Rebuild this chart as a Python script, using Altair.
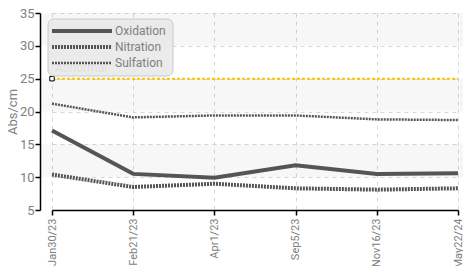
import altair as alt
import pandas as pd

dates = ["Jan30/23", "Feb21/23", "Apr1/23", "Sep5/23", "Nov16/23", "May22/24"]
oxidation = [17.1, 10.5, 9.9, 11.8, 10.5, 10.6]
nitration = [10.4, 8.5, 9.0, 8.3, 8.1, 8.3]
sulfation = [21.2, 19.1, 19.4, 19.4, 18.8, 18.7]
abnormal = [25, 25, 25, 25, 25, 25]
series = ["Oxidation", "Nitration", "Sulfation"]
band_lo = [10, 20, 30]
band_hi = [15, 25, 35]
y_ticks = [5, 10, 15, 20, 25, 30, 35]

FONT = "Roboto, Liberation Sans, sans-serif"
LINE = "#555555"
TXT = "#808080"
W = 423
H = 197

def df(vals, ds=dates):
    return pd.DataFrame({"date": ds, "value": vals})

x_axis = alt.Axis(labelAngle=-90, labelFontSize=11, labelPadding=3,
                  labelOverlap=False, grid=True, ticks=True)
x = alt.X("date:N", sort=dates, title=None,
          scale=alt.Scale(type="point", range=[12, 418], padding=0),
          axis=x_axis)
y_axis = alt.Axis(values=y_ticks, labelFontSize=13, labelPadding=1,
                  labelOverlap=False, grid=True,
                  titleFontSize=13, titleFontWeight="normal",
                  titleX=-28, titleY=H / 2, titleAngle=-90,
                  titleAlign="center", titleBaseline="middle")
y_scale = alt.Scale(domain=[5, 35], nice=False, zero=False)
y = alt.Y("value:Q", title="Abs/cm", scale=y_scale, axis=y_axis)

bands = alt.Chart(pd.DataFrame({"lo": band_lo, "hi": band_hi})).mark_rect(
    fill="#000000", fillOpacity=0.03
).encode(x=alt.value(0), x2=alt.value(W),
         y=alt.Y("lo:Q", title="Abs/cm", scale=y_scale, axis=y_axis), y2="hi:Q")

ox = alt.Chart(df(oxidation)).mark_line(color=LINE, strokeWidth=4).encode(x=x, y=y)
ni = alt.Chart(df(nitration)).mark_line(color=LINE, strokeWidth=4, strokeDash=[2, 1]).encode(x=x, y=y)
su = alt.Chart(df(sulfation)).mark_line(color=LINE, strokeWidth=2.5, strokeDash=[2, 1]).encode(x=x, y=y)
ab = alt.Chart(df(abnormal)).mark_line(color="#f7c600", strokeWidth=2, strokeDash=[3, 2]).encode(x=x, y=y)
ab_pt = alt.Chart(df(abnormal[:1], dates[:1])).mark_point(
    shape="square", size=20, filled=True, fill="white", stroke="black", strokeWidth=1, opacity=1
).encode(x=x, y=y)
ab_txt = alt.Chart(pd.DataFrame({"t": ["Abnormal"]})).mark_text(
    align="left", baseline="middle", fontSize=12, color="#b0b0b0", font=FONT
).encode(x=alt.value(15), y=alt.value(55), text="t:N")

leg_box = alt.Chart(pd.DataFrame({"a": [0]})).mark_rect(
    fill="#e8e8e8", fillOpacity=0.85, stroke="#c8c8c8", strokeWidth=1, cornerRadius=6
).encode(x=alt.value(8), x2=alt.value(133), y=alt.value(6), y2=alt.value(63))

leg_rows = [18, 34, 50]
leg_styles = [dict(strokeWidth=4), dict(strokeWidth=4, strokeDash=[2, 1]), dict(strokeWidth=2.5, strokeDash=[2, 1])]
leg_layers = []
for name, ry, st in zip(series, leg_rows, leg_styles):
    leg_layers.append(
        alt.Chart(pd.DataFrame({"s": [name]})).mark_rule(color=LINE, **st).encode(
            x=alt.value(12), x2=alt.value(72), y=alt.value(ry))
    )
    leg_layers.append(
        alt.Chart(pd.DataFrame({"s": [name]})).mark_text(
            align="left", baseline="middle", fontSize=12, color=TXT, font=FONT
        ).encode(x=alt.value(75), y=alt.value(ry), text="s:N")
    )

chart = alt.layer(bands, ox, ni, su, ab, ab_pt, ab_txt, leg_box, *leg_layers).properties(
    width=W, height=H,
    autosize=alt.AutoSizeParams(type="none"),
    padding={"left": 32, "top": 5, "right": 0, "bottom": 56},
).configure_view(stroke=None).configure_axis(
    domainColor="black", domainWidth=1.5, tickColor="black", tickSize=5, tickWidth=1.5,
    labelColor=TXT, titleColor=TXT, labelFont=FONT, titleFont=FONT,
    gridColor="#d8d8d8", gridDash=[4, 4], gridWidth=1,
)

chart.save("out.html", embed_options={"renderer": "svg", "actions": False})
